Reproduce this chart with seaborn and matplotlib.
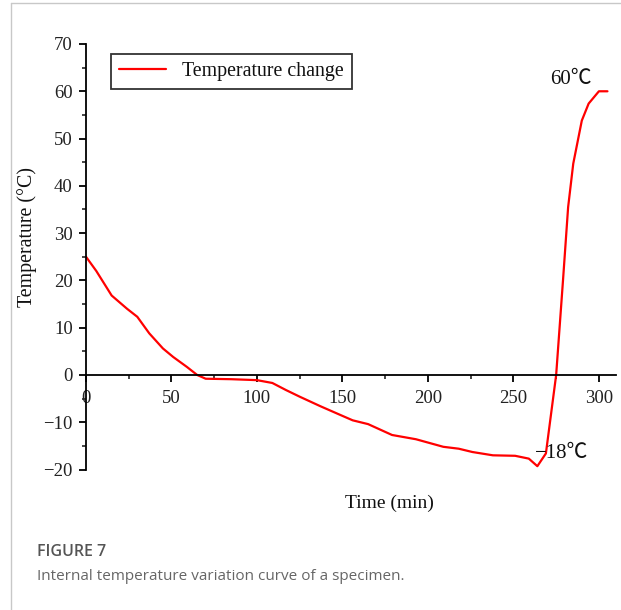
import numpy as np
import pandas as pd
import matplotlib
matplotlib.use("Agg")
import matplotlib.pyplot as plt
from matplotlib.lines import Line2D
from matplotlib.ticker import MultipleLocator
import seaborn as sns

# Data
time_min = [0, 6, 15, 24, 30, 37, 45, 51, 59, 65, 70, 85, 100, 109, 117, 125,
            137, 149, 156, 165, 179, 193, 209, 218, 226, 238, 251, 259, 264,
            269, 275, 279, 282, 285, 290, 294, 300, 305]
temperature = [25, 22, 16.8, 14, 12.3, 8.8, 5.6, 3.8, 1.7, 0, -0.8, -0.9, -1.1,
               -1.7, -3.2, -4.6, -6.6, -8.5, -9.6, -10.4, -12.7, -13.6, -15.2,
               -15.6, -16.3, -17.0, -17.1, -17.7, -19.3, -16.6, 0, 20, 35.5,
               44.7, 53.8, 57.4, 60, 60]
series_label = "Temperature change"
x_ticks = [0, 50, 100, 150, 200, 250, 300]
y_ticks = [-20, -10, 0, 10, 20, 30, 40, 50, 60, 70]
annotations = [("60℃", 283.5, 62.4), ("−18℃", 278.0, -16.6)]

df = pd.DataFrame({"Time": time_min, "Temp": temperature})

sns.set_style("ticks")
serif = ["Liberation Serif", "Noto Sans CJK SC", "DejaVu Serif"]
plt.rcParams["font.family"] = serif
plt.rcParams["axes.unicode_minus"] = True

W, H = 621, 610
fig = plt.figure(figsize=(W / 100, H / 100), dpi=100)
left_px, right_px, top_px, bot_px = 86, 616, 44, 469.5
ax = fig.add_axes([left_px / W, 1 - bot_px / H, (right_px - left_px) / W,
                   (bot_px - top_px) / H])

sns.lineplot(data=df, x="Time", y="Temp", color="red", linewidth=1.6,
             label=series_label, ax=ax, sort=False)

ax.set_xlim(0, 310)
ax.set_ylim(-20, 70)
ax.spines["top"].set_visible(False)
ax.spines["right"].set_visible(False)
ax.spines["bottom"].set_position(("data", 0))
ax.spines["left"].set_position(("data", 0))
for s in ("left", "bottom"):
    ax.spines[s].set_linewidth(1.3)
    ax.spines[s].set_color("black")

ax.set_xticks(x_ticks)
ax.set_yticks(y_ticks)
ax.xaxis.set_minor_locator(MultipleLocator(25))
ax.yaxis.set_minor_locator(MultipleLocator(5))
ax.tick_params(axis="both", which="major", direction="out", length=5,
               width=1.3, labelsize=13.5, colors="black")
ax.tick_params(axis="both", which="minor", direction="out", length=3, width=1.2)
ax.tick_params(axis="x", which="major", pad=6)
ax.tick_params(axis="y", which="major", pad=4.5)
for lbl in ax.get_xticklabels() + ax.get_yticklabels():
    lbl.set_color("#222222")

ax.set_xlabel("Time (min)", fontsize=14, color="#111111")
ax.set_ylabel("Temperature (°C)", fontsize=14.3, color="#111111")
ax.xaxis.set_label_coords((389 - left_px) / (right_px - left_px),
                          (bot_px - 495) / (bot_px - top_px))
ax.yaxis.set_label_coords((27 - left_px) / (right_px - left_px),
                          (bot_px - 237) / (bot_px - top_px))
ax.yaxis.label.set_va("center")

leg = ax.legend(loc="upper left",
                bbox_to_anchor=((110.7 - left_px) / (right_px - left_px),
                                (bot_px - 54) / (bot_px - top_px)),
                borderaxespad=0, frameon=True, fancybox=False,
                fontsize=14.3, handlelength=2.4, handletextpad=0.8,
                borderpad=0.4)
leg.get_frame().set_edgecolor("black")
leg.get_frame().set_linewidth(1.3)
for t in leg.get_texts():
    t.set_color("#111111")

for txt, xx, yy in annotations:
    ax.text(xx, yy, txt, fontsize=15, ha="center", va="center",
            color="#111111", family=serif)

# caption
cap_font = ["Open Sans", "DejaVu Sans"]
fig.text(37 / W, 1 - 551.5 / H, "FIGURE 7", fontsize=11.5, fontweight="semibold",
         color="#555555", family=cap_font, ha="left", va="center")
fig.text(37 / W, 1 - 576.5 / H,
         "Internal temperature variation curve of a specimen.",
         fontsize=11.0, color="#666666", family=cap_font, ha="left", va="center")

# page border lines
fig.add_artist(Line2D([11 / W, 11 / W], [1 - 3 / H, 0], color="#c8c8c8",
                      linewidth=1.0, transform=fig.transFigure))
fig.add_artist(Line2D([11 / W, 1], [1 - 3 / H, 1 - 3 / H], color="#c8c8c8",
                      linewidth=1.0, transform=fig.transFigure))

fig.savefig("out.png", dpi=100, facecolor="white")
